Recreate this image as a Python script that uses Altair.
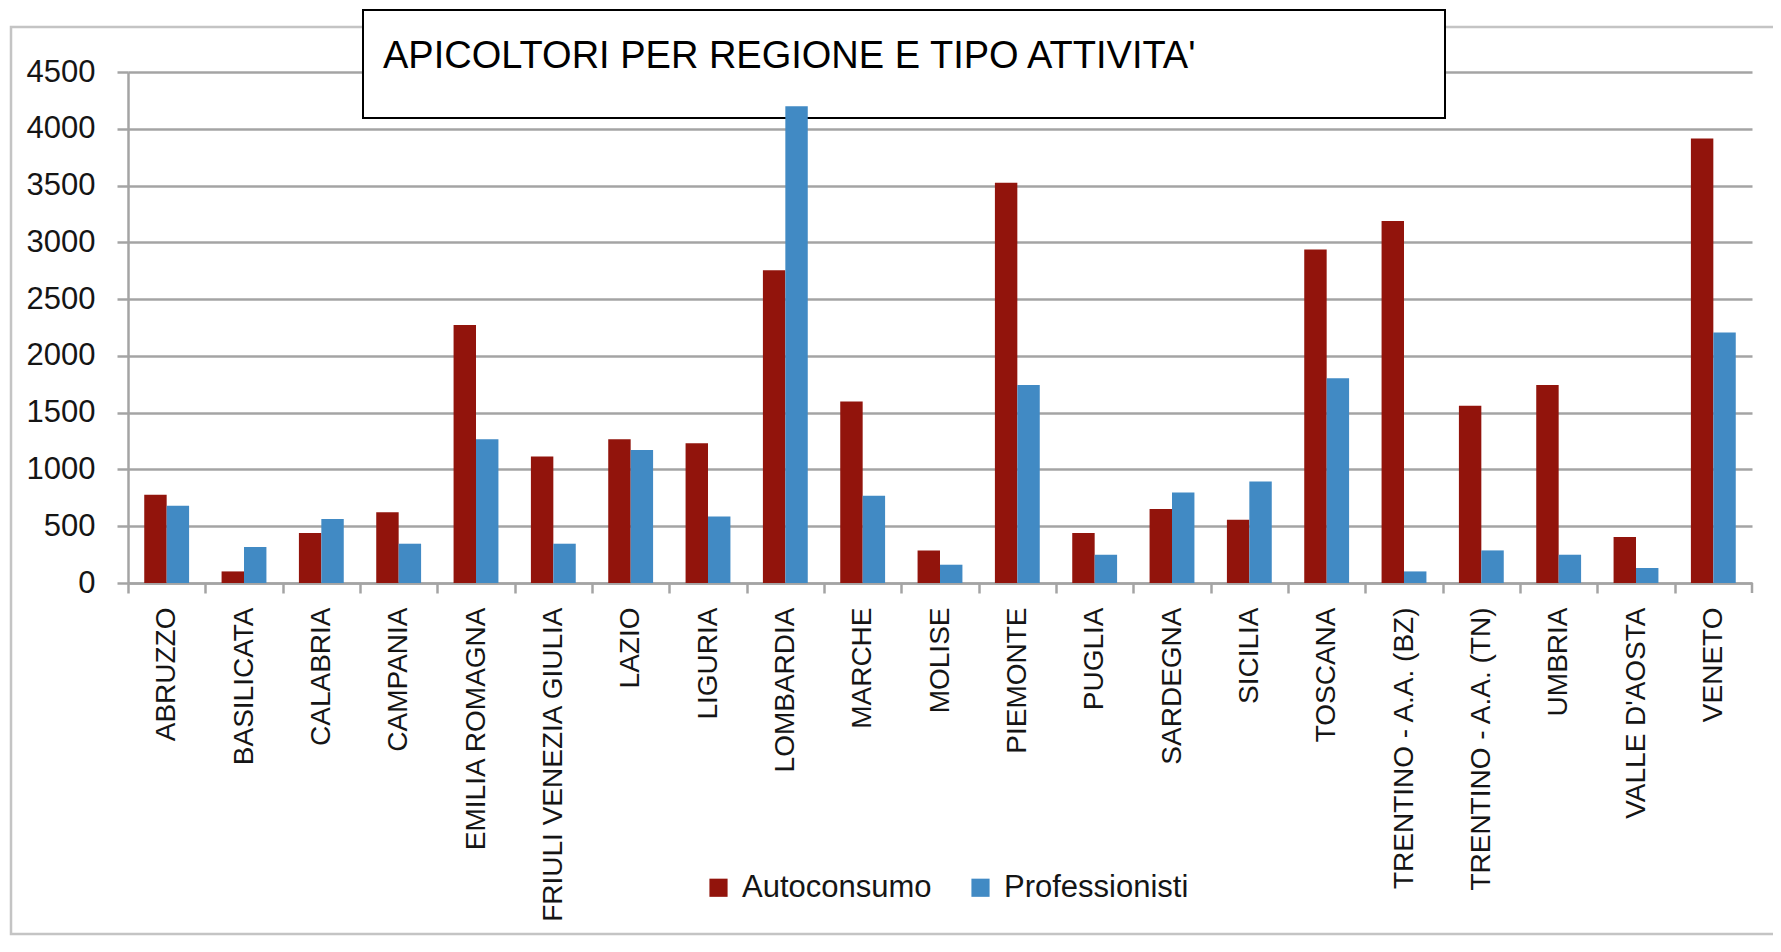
import altair as alt
import pandas as pd

regioni = ["ABRUZZO", "BASILICATA", "CALABRIA", "CAMPANIA", "EMILIA ROMAGNA",
           "FRIULI VENEZIA GIULIA", "LAZIO", "LIGURIA", "LOMBARDIA", "MARCHE",
           "MOLISE", "PIEMONTE", "PUGLIA", "SARDEGNA", "SICILIA", "TOSCANA",
           "TRENTINO - A.A. (BZ)", "TRENTINO - A.A. (TN)", "UMBRIA",
           "VALLE D'AOSTA", "VENETO"]
autoconsumo = [777, 102, 440, 624, 2272, 1114, 1266, 1231, 2755, 1598, 287,
               3524, 440, 651, 557, 2937, 3187, 1560, 1744, 405, 3914]
professionisti = [680, 317, 563, 346, 1266, 346, 1172, 586, 4198, 768, 161,
                  1744, 249, 797, 894, 1803, 102, 287, 249, 132, 2205]
serie = ["Autoconsumo", "Professionisti"]
colori = ["#92140C", "#418AC4"]
y_ticks = [0, 500, 1000, 1500, 2000, 2500, 3000, 3500, 4000, 4500]
titolo = "APICOLTORI PER REGIONE E TIPO ATTIVITA'"

rows = []
for r, a, p in zip(regioni, autoconsumo, professionisti):
    rows.append({"Regione": r, "Tipo": serie[0], "Valore": a})
    rows.append({"Regione": r, "Tipo": serie[1], "Valore": p})
df = pd.DataFrame(rows)
one = pd.DataFrame({"k": [0]})

W, H = 1624, 511
step = W / len(regioni)
pin = 0.42
off = pin / 2 * step
grey = "#a4a4a4"
ink = "#151515"

frame = alt.Chart(one).mark_rect(fill=None, stroke="#c4c4c4", strokeWidth=2.5).encode(
    x=alt.value(-117), x2=alt.value(1700), y=alt.value(-45), y2=alt.value(862)
)

box = alt.Chart(one).mark_rect(fill="white", stroke="black", strokeWidth=2).encode(
    x=alt.value(235), x2=alt.value(1317), y=alt.value(-62), y2=alt.value(46)
)

title = alt.Chart(one).mark_text(
    text=titolo, align="left", baseline="alphabetic", fontSize=38,
    font="Liberation Sans", color="black"
).encode(x=alt.value(255), y=alt.value(-4))

bars = alt.Chart(df).mark_bar().encode(
    x=alt.X("Regione:N", sort=regioni, title=None,
            scale=alt.Scale(paddingInner=pin, paddingOuter=pin / 2),
            axis=alt.Axis(labelAngle=270, labelFontSize=28, labelFont="Liberation Sans",
                          labelColor=ink, labelPadding=14, tickSize=10,
                          tickColor=grey, tickWidth=2.5, domainColor=grey,
                          domainWidth=2.5, bandPosition=0, tickOffset=-off,
                          labelOffset=off, labelAlign="right", labelBaseline="middle",
                          labelLimit=0, grid=False)),
    xOffset=alt.XOffset("Tipo:N", sort=serie,
                        scale=alt.Scale(paddingInner=0, paddingOuter=0)),
    y=alt.Y("Valore:Q", title=None,
            scale=alt.Scale(domain=[0, 4500], nice=False),
            axis=alt.Axis(values=y_ticks, format="d", labelFontSize=31,
                          labelFont="Liberation Sans",
                          labelColor=ink, labelPadding=22, tickSize=11,
                          tickColor=grey, tickWidth=2.5, domainColor=grey,
                          domainWidth=2.5, grid=True, gridColor=grey,
                          gridWidth=2.5)),
    color=alt.Color("Tipo:N", sort=serie,
                    scale=alt.Scale(domain=serie, range=colori),
                    legend=alt.Legend(title=None, orient="none", direction="horizontal",
                                      legendX=575, legendY=800, symbolType="square",
                                      symbolSize=330, symbolStrokeWidth=0,
                                      labelFontSize=31, labelFont="Liberation Sans",
                                      labelColor=ink, labelOffset=8, labelLimit=0,
                                      columnPadding=33))
)

endtick = alt.Chart(one).mark_rule(color=grey, strokeWidth=2.5).encode(
    x=alt.value(W), y=alt.value(H), y2=alt.value(H + 10)
)

chart = alt.layer(frame, box, bars, endtick, title).properties(
    width=W, height=H,
    autosize=alt.AutoSizeParams(type="none"),
    padding={"left": 120, "top": 64, "right": 21, "bottom": 353},
).configure_view(stroke=None)

chart.save("out.html", embed_options={"renderer": "svg", "actions": False})
